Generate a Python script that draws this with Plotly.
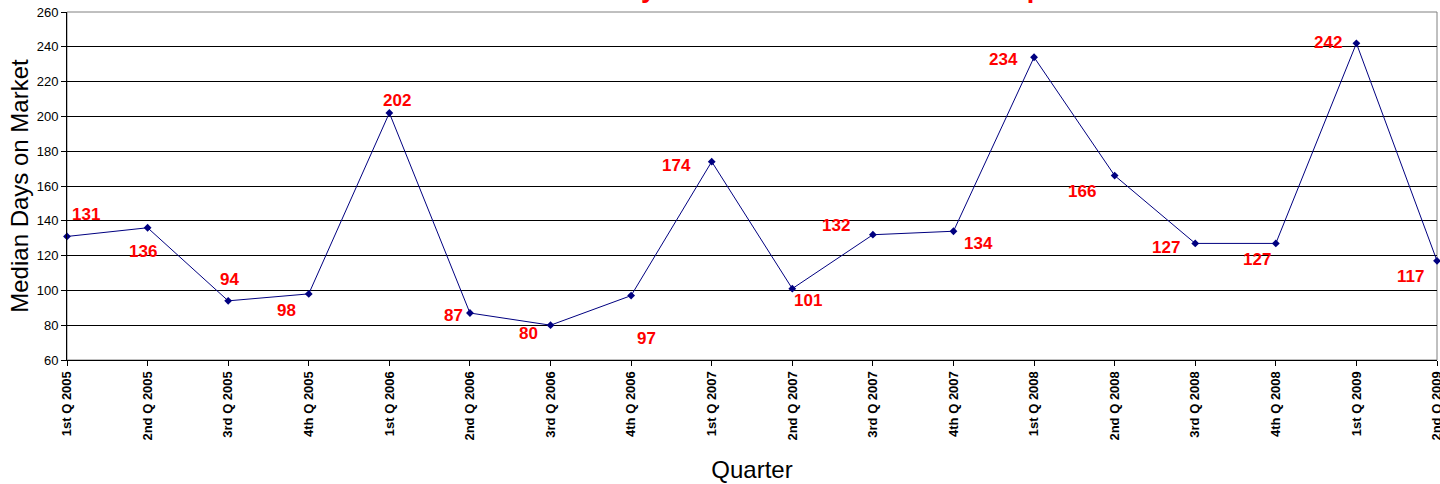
import plotly.graph_objects as go

quarters = ["1st Q 2005", "2nd Q 2005", "3rd Q 2005", "4th Q 2005",
            "1st Q 2006", "2nd Q 2006", "3rd Q 2006", "4th Q 2006",
            "1st Q 2007", "2nd Q 2007", "3rd Q 2007", "4th Q 2007",
            "1st Q 2008", "2nd Q 2008", "3rd Q 2008", "4th Q 2008",
            "1st Q 2009", "2nd Q 2009"]
median_days = [131, 136, 94, 98, 202, 87, 80, 97, 174, 101, 132, 134,
               234, 166, 127, 127, 242, 117]

# label offsets in pixels (x right, y up)
label_dx = [19, -5, 1, -22, 8, -16, -22, 15, -35, 16, -37, 25, -31, -33, -29, -19, -28, -27]
label_dy = [22, -24, 21, -17, 12, -2, -8, -43, -4, -12, 9, -12, -2, -16, -4, -16, 1, -16]

title_text = "Median Days on Market - Residential Properties"

x_idx = list(range(len(quarters)))

fig = go.Figure()
fig.add_trace(go.Scatter(
    x=x_idx, y=median_days, mode="lines+markers",
    line=dict(color="#000080", width=1),
    marker=dict(symbol="diamond", size=6, color="#000080"),
    cliponaxis=False, hoverinfo="x+y",
))

annotations = []
for i, v in enumerate(median_days):
    annotations.append(dict(
        x=i, y=v, xref="x", yref="y", text=str(v), showarrow=False,
        xshift=label_dx[i], yshift=label_dy[i],
        font=dict(family="Liberation Sans, Arial", size=17, color="#FF0000", weight="bold"),
    ))
annotations.append(dict(
    x=0, y=1, xref="paper", yref="paper", xanchor="left", yanchor="bottom",
    xshift=437, yshift=7, text="<b>" + title_text + "</b>", showarrow=False,
    font=dict(family="Liberation Sans, Arial", size=27, color="#FF0000"),
))

fig.update_layout(
    width=1440, height=484,
    margin=dict(l=67, r=3, t=12, b=124, autoexpand=False),
    paper_bgcolor="white", plot_bgcolor="white",
    showlegend=False,
    annotations=annotations,
    shapes=[dict(type="rect", xref="paper", yref="paper", x0=0, y0=0, x1=1, y1=1,
                 line=dict(color="#808080", width=1), layer="below")],
    font=dict(family="Liberation Sans, Arial", color="black"),
)
fig.update_xaxes(
    range=[0, len(quarters) - 1], tickmode="array", tickvals=x_idx, ticktext=quarters,
    tickangle=-90, tickfont=dict(size=13, weight="bold"), ticklabeloverflow="allow",
    ticks="outside", ticklen=5, tickcolor="black", automargin=False,
    showline=True, linecolor="black", linewidth=1, showgrid=False, zeroline=False,
    title=dict(text="Quarter", font=dict(size=24), standoff=21),
)
fig.update_yaxes(
    range=[60, 260], dtick=20, tickfont=dict(size=13),
    ticks="outside", ticklen=5, tickcolor="black", automargin=False,
    showline=True, linecolor="black", linewidth=1,
    showgrid=True, gridcolor="black", gridwidth=1, zeroline=False,
    title=dict(text="Median Days on Market", font=dict(size=24), standoff=1),
)

fig.write_html("out.html", config={"displayModeBar": False},
               post_script="document.body.style.margin='0';document.body.style.padding='0';")
